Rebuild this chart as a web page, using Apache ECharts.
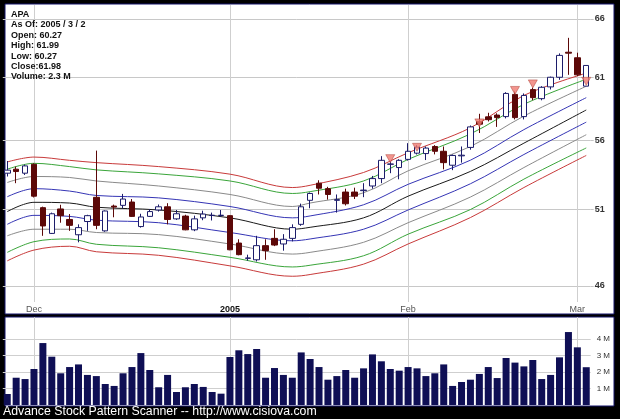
<!DOCTYPE html>
<html><head><meta charset="utf-8">
<script src="https://cdn.jsdelivr.net/npm/echarts@6/dist/echarts.min.js"></script>
<style>html,body{margin:0;padding:0;background:#000;}#c{width:620px;height:419px;}</style>
</head><body><div id="c"></div>
<script>
const ticker = 'APA';
const dates = ['2004-11-26','2004-11-29','2004-11-30',
'2004-12-01','2004-12-02','2004-12-03','2004-12-06','2004-12-07','2004-12-08','2004-12-09','2004-12-10','2004-12-13','2004-12-14','2004-12-15','2004-12-16','2004-12-17','2004-12-20','2004-12-21','2004-12-22','2004-12-23','2004-12-27','2004-12-28','2004-12-29','2004-12-30','2004-12-31',
'2005-01-03','2005-01-04','2005-01-05','2005-01-06','2005-01-07','2005-01-10','2005-01-11','2005-01-12','2005-01-13','2005-01-14','2005-01-18','2005-01-19','2005-01-20','2005-01-21','2005-01-24','2005-01-25','2005-01-26','2005-01-27','2005-01-28','2005-01-31',
'2005-02-01','2005-02-02','2005-02-03','2005-02-04','2005-02-07','2005-02-08','2005-02-09','2005-02-10','2005-02-11','2005-02-14','2005-02-15','2005-02-16','2005-02-17','2005-02-18','2005-02-22','2005-02-23','2005-02-24','2005-02-25','2005-02-28',
'2005-03-01','2005-03-02'];
const opens = [53.58,53.87,53.58,54.23,51.14,49.39,51.05,50.33,49.30,50.19,51.86,49.56,51.25,51.30,51.53,49.85,50.54,50.98,51.20,50.37,50.56,49.63,50.44,50.60,50.60,
50.59,48.75,47.75,47.66,48.58,49.06,48.69,49.06,50.00,51.65,52.86,52.47,51.65,52.23,52.23,52.33,52.66,53.19,54.23,53.99,
54.59,55.05,55.02,55.55,55.19,54.16,54.85,55.48,57.45,57.82,57.96,57.84,59.60,57.84,59.99,59.26,60.21,61.00,63.10,62.63,60.27];
const highs = [54.47,54.06,54.20,54.30,51.21,50.80,51.34,50.70,50.00,50.65,55.24,50.95,51.35,52.10,51.74,50.72,51.03,51.36,51.45,50.98,50.65,50.59,50.93,50.80,50.98,
50.62,49.00,47.99,49.23,49.00,49.67,49.34,50.00,51.42,52.20,53.07,52.60,52.06,52.47,52.54,52.86,53.38,54.83,54.47,54.60,
55.80,55.65,55.55,55.65,55.55,54.95,55.55,57.15,58.06,58.14,58.10,59.78,59.84,59.68,60.15,60.27,61.05,63.00,64.34,63.06,61.99];
const lows = [53.34,52.86,53.45,51.85,49.23,49.35,50.11,49.56,48.80,49.56,49.67,49.50,50.48,51.10,50.50,49.78,50.50,50.87,50.00,50.30,49.60,49.54,50.28,50.26,50.50,
48.28,47.95,47.60,47.55,47.66,48.55,48.25,48.86,49.90,51.10,52.06,51.70,50.80,51.29,51.74,51.87,52.47,52.86,53.58,53.14,
54.50,54.95,54.54,54.96,53.86,53.80,54.35,55.31,56.57,57.46,57.04,57.70,57.62,57.62,59.13,59.13,60.00,60.79,61.20,61.10,60.27];
const closes = [53.80,53.70,54.11,51.94,49.89,50.72,50.59,49.93,49.78,50.59,49.93,50.91,51.18,51.74,50.54,50.50,50.87,51.20,50.33,50.72,49.63,50.37,50.70,50.62,50.62,
48.31,47.99,47.78,48.58,48.25,48.62,49.00,49.78,51.20,52.13,52.50,52.06,51.70,51.41,51.94,52.37,53.19,54.52,54.25,54.52,
55.19,55.50,55.43,55.19,54.35,54.88,54.90,57.04,57.25,57.60,57.76,59.68,57.76,59.52,59.34,60.18,61.00,62.83,63.02,61.20,61.98];
const volumes = [0.67,1.66,1.58,2.19,3.77,2.94,1.93,2.31,2.47,1.83,1.76,1.28,1.16,1.93,2.31,3.16,2.13,1.08,1.83,0.79,1.08,1.28,1.10,0.79,0.69,
2.92,3.33,3.10,3.41,1.66,2.25,1.83,1.66,3.20,2.80,2.31,1.54,1.76,2.13,1.66,2.23,3.08,2.66,2.19,2.09,
2.31,2.23,1.76,1.93,2.47,1.16,1.40,1.54,1.89,2.31,1.64,2.86,2.58,2.35,2.74,1.58,1.83,2.90,4.44,3.51,2.30];
// envelope lines read at these day indices
const bandIdx = [0,3,7,10,17,25,32,34,40,45,52,58,65];
const redUpper   = [54.40,54.76,54.52,54.35,54.06,53.51,52.55,52.71,53.63,55.08,56.97,59.52,61.34];
const greenUpper = [53.87,54.30,54.06,53.82,53.53,53.02,52.13,52.26,53.02,54.59,56.50,58.81,60.84];
const grayUpper  = [52.91,53.34,53.27,53.02,52.66,52.06,51.22,51.46,52.18,53.75,55.55,57.88,60.26];
const blueUpper  = [51.90,52.47,52.30,51.99,51.82,51.22,50.44,50.57,51.34,52.78,54.53,56.83,59.34];
const centerLine = [50.87,51.51,51.46,51.17,50.98,50.44,49.67,49.80,50.44,51.94,53.71,55.80,58.36];
const blueLower  = [50.00,50.61,50.54,50.28,50.11,49.45,48.90,49.02,49.67,50.98,52.82,54.95,57.41];
const grayLower  = [49.23,49.67,49.67,49.45,49.31,48.69,48.03,48.14,48.80,50.11,51.88,53.99,56.44];
const greenLower = [48.14,48.84,49.02,48.67,48.44,47.82,47.20,47.31,47.92,49.34,51.01,53.15,55.44];
const redLower   = [47.59,48.29,48.54,48.18,47.95,47.27,46.61,46.72,47.38,48.69,50.46,52.55,54.88];
const signalIdx = [43,46,53,57,59,65];
const signalVal = [54.35,55.19,57.04,59.60,60.13,60.34];
const priceTicks = [46,51,56,61,66];
const volumeTicks = [1,2,3,4];
const footer = 'Advance Stock Pattern Scanner -- http://www.cisiova.com';

const monthNames = ['Jan','Feb','Mar','Apr','May','Jun','Jul','Aug','Sep','Oct','Nov','Dec'];
const isMonthStart = (i) => i > 0 && dates[i].slice(5,7) !== dates[i-1].slice(5,7);
const monthStarts = dates.map((d,i)=>i).filter(isMonthStart);
const last = dates.length - 1;
const ld = dates[last].split('-').map(Number);

const infoText = [ticker,
  'As Of: ' + ld[0] + ' / ' + ld[1] + ' / ' + ld[2],
  'Open: ' + opens[last].toFixed(2),
  'High: ' + highs[last].toFixed(2),
  'Low: ' + lows[last].toFixed(2),
  'Close:' + closes[last].toFixed(2),
  'Volume: ' + volumes[last].toFixed(1) + ' M'].join('\n');

function band(arr, color) {
  return { type:'line', xAxisIndex:0, yAxisIndex:0, silent:true, z:3,
    data: bandIdx.map((ix,k)=>[ix, arr[k]]), symbol:'none', smooth:0.35,
    lineStyle:{color:color, width:1} };
}
const vlineStyle = {color:'#cfcfcf', width:1, type:'solid'};

const chart = echarts.init(document.getElementById('c'), null, {renderer:'canvas'});
chart.setOption({
  animation:false,
  backgroundColor:'#000',
  graphic:[
    {type:'rect', z:-10, shape:{x:5,y:4,width:609,height:310}, style:{fill:'#fff', stroke:'#15156a', lineWidth:1}},
    {type:'rect', z:-10, shape:{x:5,y:317,width:609,height:89}, style:{fill:'#fff', stroke:'#15156a', lineWidth:1}},
    {type:'text', z:100, x:11, y:9, style:{text:infoText, fill:'#111', font:'bold 9px Arial', lineHeight:10.45}},
    {type:'text', z:100, x:3, y:405.5, style:{text:footer, fill:'#fff', font:'12.3px Arial'}}
  ],
  grid:[
    {left:2.8, right:29.3, top:5, bottom:117},
    {left:2.8, right:29.3, top:317, bottom:14}
  ],
  xAxis:[
    {type:'category', gridIndex:0, data:dates, boundaryGap:true,
      axisLine:{show:false}, axisTick:{show:false}, splitLine:{show:false},
      axisLabel:{interval:(i)=>isMonthStart(i), margin:3, fontSize:9, color:'#555', fontFamily:'Arial',
        formatter:(v)=>{const m=+v.slice(5,7); return m===1 ? '{y|'+v.slice(0,4)+'}' : monthNames[m-1];},
        rich:{y:{fontWeight:'bold', color:'#111', fontSize:9, fontFamily:'Arial'}}}},
    {type:'category', gridIndex:1, data:dates, boundaryGap:true,
      axisLine:{show:false}, axisTick:{show:false}, axisLabel:{show:false}, splitLine:{show:false}}
  ],
  yAxis:[
    {type:'log', gridIndex:0, position:'right', min:45.016, max:67.26,
      axisLine:{show:false},
      axisTick:{show:true, length:3, customValues:priceTicks, lineStyle:{color:'#c4c4c4'}},
      axisLabel:{customValues:priceTicks, margin:4, fontSize:9, color:'#333', fontFamily:'Arial', fontWeight:'bold'},
      splitLine:{show:true, lineStyle:{color:'#c8c8c8', width:1}}},
    {type:'value', gridIndex:1, position:'right', min:0, max:5.356,
      axisLine:{show:false},
      axisTick:{show:false, customValues:volumeTicks},
      axisLabel:{customValues:volumeTicks, margin:6, fontSize:8, color:'#333', fontFamily:'Arial', formatter:(v)=>v+' M'},
      splitLine:{show:true, lineStyle:{color:'#cfcfcf', width:1}}}
  ],
  series:[
    {type:'line', xAxisIndex:0, yAxisIndex:0, data:[], silent:true,
      markLine:{silent:true, symbol:'none', z:1, label:{show:false}, lineStyle:vlineStyle,
        data: monthStarts.map(i=>({xAxis:i}))}},
    band(redUpper,'#c83a3a'), band(greenUpper,'#3aa53a'), band(grayUpper,'#8a8a8a'), band(blueUpper,'#3535b5'),
    band(centerLine,'#1a1a1a'),
    band(blueLower,'#3535b5'), band(grayLower,'#8a8a8a'), band(greenLower,'#3aa53a'), band(redLower,'#c83a3a'),
    {type:'candlestick', xAxisIndex:0, yAxisIndex:0, z:5, barWidth:6,
      data: dates.map((d,i)=>[opens[i], closes[i], lows[i], highs[i]]),
      itemStyle:{color:'#ffffff', color0:'#5c0808', borderColor:'#1c1c6a', borderColor0:'#5c0808', borderWidth:1}},
    {type:'scatter', xAxisIndex:0, yAxisIndex:0, z:6, silent:true, clip:false,
      symbol:'path://M0 0L8 0L4 8Z', symbolSize:[9,8], symbolOffset:[0,-4],
      itemStyle:{color:'#f07a72', borderColor:'#a83a30', borderWidth:0.6},
      data: signalIdx.map((ix,k)=>[ix, signalVal[k]])},
    {type:'bar', xAxisIndex:1, yAxisIndex:1, barWidth:7, z:3,
      itemStyle:{color:'#0f0f55'}, data:volumes,
      markLine:{silent:true, symbol:'none', z:1, label:{show:false}, lineStyle:vlineStyle,
        data: monthStarts.map(i=>({xAxis:i}))}}
  ]
});
</script></body></html>
